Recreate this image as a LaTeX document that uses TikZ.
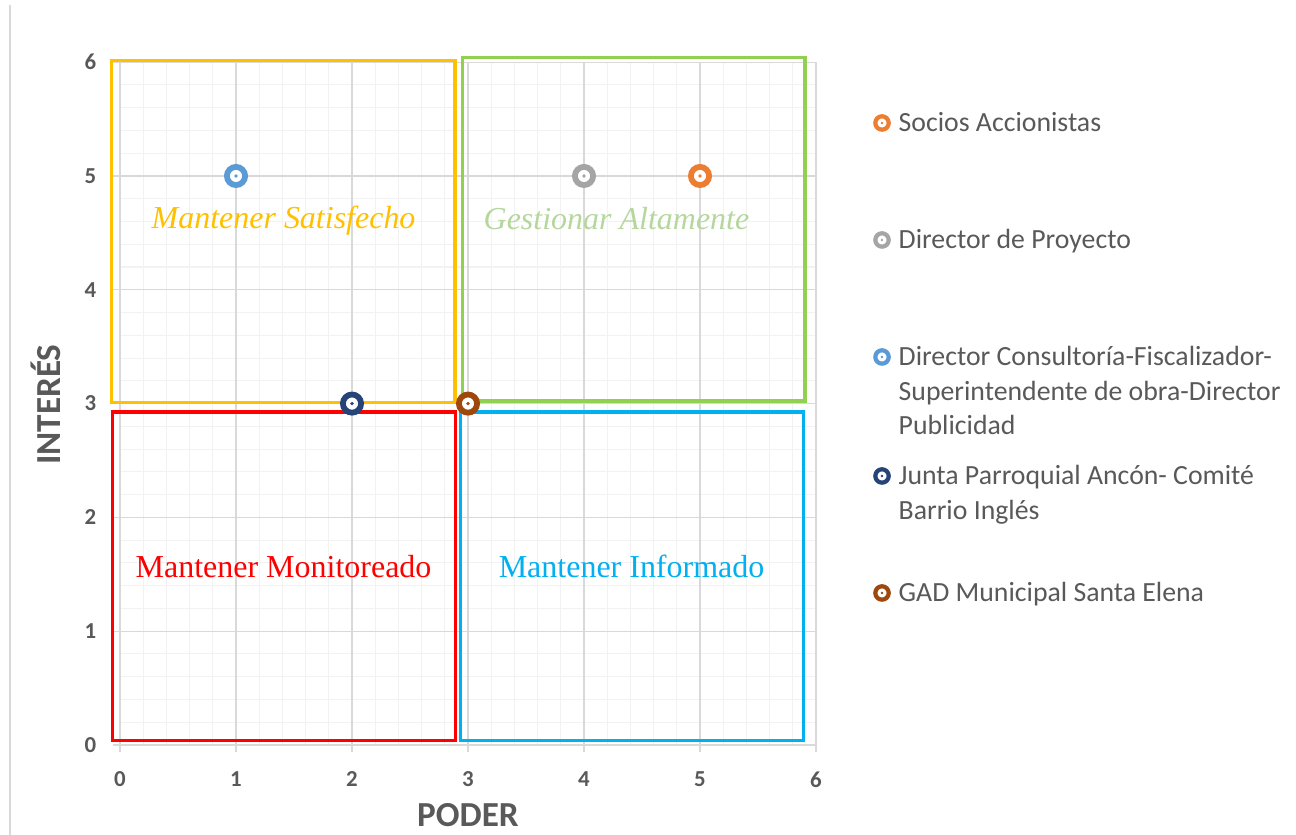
\documentclass[tikz,border=0pt]{standalone}
\usepackage{fontspec}
\setmainfont{Carlito}
\newfontfamily\quadfont{Liberation Serif}
\usetikzlibrary{positioning}
\definecolor{gridmajor}{RGB}{217,217,217}
\definecolor{gridminor}{RGB}{242,242,242}
\definecolor{labelgray}{RGB}{89,89,89}
\definecolor{sociosorange}{RGB}{237,125,49}
\definecolor{directorgray}{RGB}{165,165,165}
\definecolor{consultblue}{RGB}{91,155,213}
\definecolor{juntanavy}{RGB}{38,68,120}
\definecolor{gadbrown}{RGB}{158,72,14}
\definecolor{satyellow}{RGB}{255,192,0}
\definecolor{gestgreen}{RGB}{146,208,80}
\definecolor{gesttext}{RGB}{181,215,158}
\definecolor{monred}{RGB}{255,0,0}
\definecolor{infoblue}{RGB}{0,176,240}

\begin{document}
\begin{tikzpicture}
\tikzstyle{every node}+=[inner sep=0pt]
\tikzstyle{minorline}=[gridminor,line width=0.3pt]
\tikzstyle{majorline}=[gridmajor,line width=0.35pt]
\tikzstyle{quadbox}=[line width=0.9pt]
\tikzstyle{ticklabel}=[labelgray,font=\bfseries\fontsize{6.5}{8}\selectfont]
\tikzstyle{axistitle}=[labelgray,font=\bfseries\fontsize{10}{12}\selectfont]
\tikzstyle{quadlabel}=[font=\quadfont\fontsize{9.1}{11}\selectfont]
\tikzstyle{quadlabelit}=[font=\quadfont\itshape\fontsize{9.1}{11}\selectfont]
\tikzstyle{keytext}=[labelgray,anchor=base west,align=left,font=\fontsize{7.9}{9.7}\selectfont]
\tikzset{
  stake/.style={circle,draw=#1,fill=white,line width=1.65pt,minimum size=0.182cm,
    path picture={\fill[#1] (path picture bounding box.center) circle (0.016);}},
  keymark/.style={circle,draw=#1,fill=white,line width=1.2pt,minimum size=0.134cm,
    path picture={\fill[#1] (path picture bounding box.center) circle (0.014);}}
}
\useasboundingbox (0,0) rectangle (12.96,8.35);
\draw[gridmajor,line width=0.3pt] (0.10,0) -- (0.10,8.30);
\begin{scope}[shift={(1.20,0.90)},x=1.16cm,y=1.138cm]
\foreach \k in {1,...,29} {
  \draw[minorline] (\k/5,0) -- (\k/5,6);
  \draw[minorline] (0,\k/5) -- (6,\k/5);
}
\foreach \k in {0,...,6} {
  \draw[majorline] (\k,-0.06) -- (\k,6);
  \draw[majorline] (-0.06,\k) -- (6,\k);
  \node[ticklabel,anchor=north] (xtick\k) at (\k,-0.23) {\k};
  \node[ticklabel,anchor=east] (ytick\k) at (-0.2,\k) {\k};
}
\node[axistitle] (poder) at (3,-0.615) {PODER};
\node[axistitle,rotate=90] (interes) at (-0.64,2.99) {INTERÉS};

\draw[quadbox,satyellow] (-0.07,3.008) rectangle (2.888,6.017);
\draw[quadbox,gestgreen] (2.954,3.023) rectangle (5.905,6.04);
\draw[quadbox,monred] (-0.066,0.038) rectangle (2.89,2.926);
\draw[quadbox,infoblue] (2.934,0.038) rectangle (5.89,2.926);

\node[quadlabelit,satyellow] (satisfecho) at (1.41,4.61) {Mantener Satisfecho};
\node[quadlabelit,gesttext] (altamente) at (4.28,4.63) {Gestionar Altamente};
\node[quadlabel,monred] (monitoreado) at (1.41,1.57) {Mantener Monitoreado};
\node[quadlabel,infoblue] (informado) at (4.41,1.57) {Mantener Informado};

\node[stake=consultblue] (consultoria) at (1,5) {};
\node[stake=directorgray] (director) at (4,5) {};
\node[stake=sociosorange] (socios) at (5,5) {};
\node[stake=juntanavy] (junta) at (2,3) {};
\node[stake=gadbrown] (gad) at (3,3) {};
\end{scope}

\node[keymark=sociosorange] (ksocios) at (8.82,7.12) {};
\node[keymark=directorgray] (kdirector) at (8.82,5.95) {};
\node[keymark=consultblue] (kconsultoria) at (8.82,4.78) {};
\node[keymark=juntanavy] (kjunta) at (8.82,3.59) {};
\node[keymark=gadbrown] (kgad) at (8.82,2.42) {};
\node[keytext] (tsocios) at ([xshift=0.16cm,yshift=-0.09cm]ksocios.center) {Socios Accionistas};
\node[keytext] (tdirector) at ([xshift=0.16cm,yshift=-0.09cm]kdirector.center) {Director de Proyecto};
\node[keytext] (tconsultoria) at ([xshift=0.16cm,yshift=-0.09cm-19.4pt]kconsultoria.center) {Director Consultoría-Fiscalizador-\\Superintendente de obra-Director\\Publicidad};
\node[keytext] (tjunta) at ([xshift=0.16cm,yshift=-0.09cm-9.7pt]kjunta.center) {Junta Parroquial Ancón- Comité\\Barrio Inglés};
\node[keytext] (tgad) at ([xshift=0.16cm,yshift=-0.09cm]kgad.center) {GAD Municipal Santa Elena};
\end{tikzpicture}
\end{document}
